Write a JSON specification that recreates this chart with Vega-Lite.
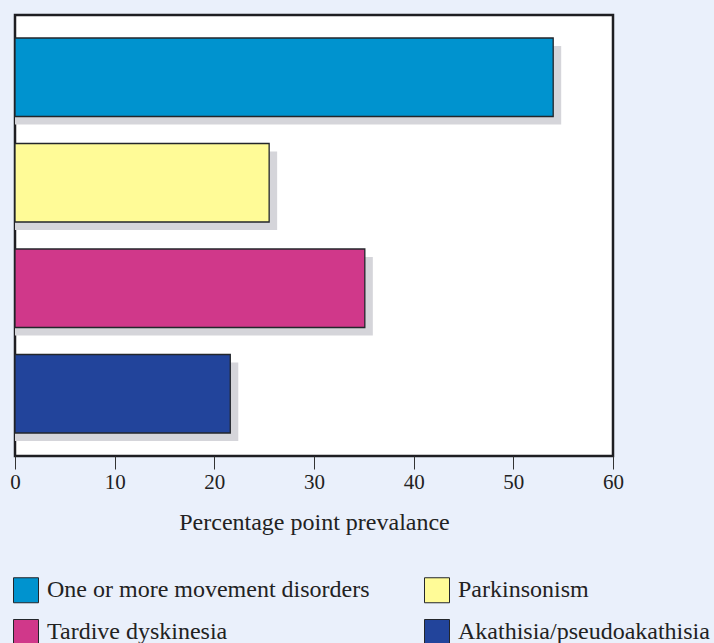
{
  "$schema": "https://vega.github.io/schema/vega-lite/v6.json",
  "width": 598,
  "height": 441,
  "autosize": {"type": "none"},
  "padding": {"left": 15, "top": 15, "right": 101, "bottom": 187},
  "background": "#eaf0fb",
  "config": {
    "view": {"fill": "white", "stroke": "#1e1e22", "strokeWidth": 2.5},
    "font": "Liberation Serif"
  },
  "data": {
    "values": [
      {"category": "One or more movement disorders", "value": 54.0},
      {"category": "Parkinsonism", "value": 25.5},
      {"category": "Tardive dyskinesia", "value": 35.1},
      {"category": "Akathisia/pseudoakathisia", "value": 21.6}
    ]
  },
  "encoding": {
    "y": {
      "field": "category",
      "type": "nominal",
      "sort": ["One or more movement disorders", "Parkinsonism", "Tardive dyskinesia", "Akathisia/pseudoakathisia"],
      "axis": null,
      "scale": {"paddingInner": 0.256, "paddingOuter": 0.218}
    },
    "x": {
      "field": "value",
      "type": "quantitative",
      "stack": null,
      "scale": {"domain": [0, 60], "nice": false, "zero": true},
      "axis": {
        "title": "Percentage point prevalance",
        "values": [0, 10, 20, 30, 40, 50, 60],
        "grid": false,
        "domain": false,
        "labelFlush": false,
        "tickSize": 13,
        "tickColor": "#333",
        "tickWidth": 1,
        "labelFont": "Liberation Serif",
        "labelFontSize": 21,
        "labelColor": "#222",
        "labelPadding": 2,
        "titleFont": "Liberation Serif",
        "titleFontSize": 24,
        "titleFontWeight": "normal",
        "titleColor": "#222",
        "titlePadding": 18
      }
    }
  },
  "layer": [
    {
      "mark": {"type": "bar", "color": "#d5d5da", "xOffset": 8, "x2Offset": 8, "yOffset": 8, "y2Offset": 8}
    },
    {
      "mark": {"type": "bar", "stroke": "#23262b", "strokeWidth": 1.3, "opacity": 1},
      "encoding": {
        "fill": {
          "field": "category",
          "type": "nominal",
          "scale": {
            "domain": ["One or more movement disorders", "Tardive dyskinesia", "Parkinsonism", "Akathisia/pseudoakathisia"],
            "range": ["#0093cf", "#d0388a", "#fffb97", "#22449b"]
          },
          "legend": {
            "orient": "none",
            "legendX": -2,
            "legendY": 562,
            "title": null,
            "columns": 2,
            "columnPadding": 52,
            "rowPadding": 12,
            "padding": 0,
            "symbolType": "square",
            "symbolSize": 625,
            "symbolStrokeColor": "#23262b",
            "symbolStrokeWidth": 1,
            "symbolOpacity": 1,
            "labelFont": "Liberation Serif",
            "labelFontSize": 24,
            "labelColor": "#222",
            "labelOffset": 8,
            "labelLimit": 500
          }
        }
      }
    }
  ]
}
